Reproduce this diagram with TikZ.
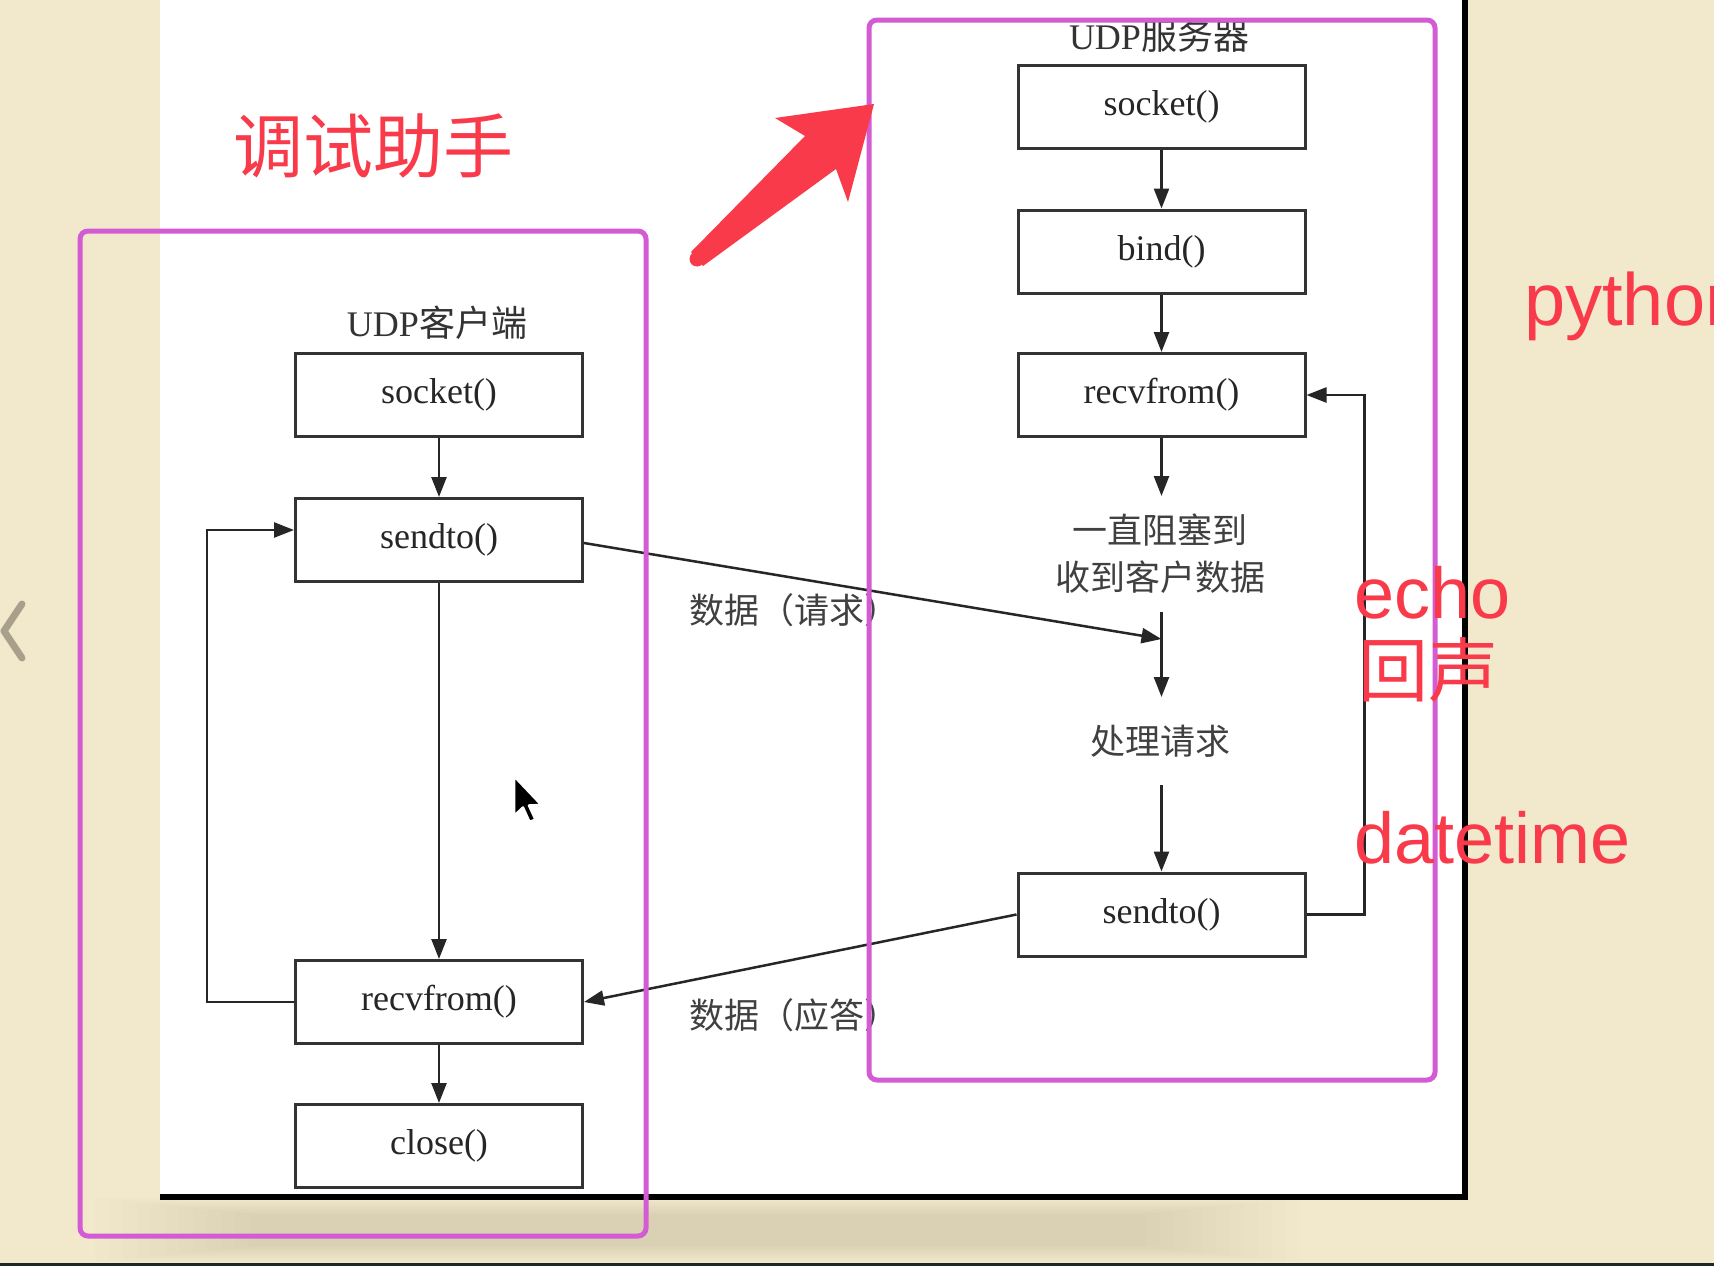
\documentclass[tikz,border=0pt]{standalone}
\usepackage{fontspec}
\setmainfont{Liberation Serif}
\newfontfamily\cjk{Noto Sans CJK SC}
\newfontfamily\annotfont{Liberation Sans}
\usetikzlibrary{arrows.meta}
\definecolor{deskcol}{HTML}{F2E9CD}
\definecolor{lassocol}{HTML}{D35BD3}
\definecolor{annred}{HTML}{F93A4A}
\definecolor{chevcol}{HTML}{A9A08B}
\definecolor{stripcol}{HTML}{1E2628}
\begin{document}
\begin{tikzpicture}[x=1pt,y=-1pt,
  fn/.style={draw=black!80, line width=3pt, fill=white, minimum width=287pt,
    minimum height=83pt, inner sep=0pt, text=black!85,
    font=\fontsize{36pt}{40pt}\selectfont},
  conn/.style={draw=black!85, line width=2.5pt, -{Triangle[length=20pt,width=15pt]}},
  heading/.style={inner sep=0pt, text=black!80, font=\fontsize{36pt}{40pt}\selectfont},
  note/.style={inner sep=0pt, text=black!75, font=\fontsize{35pt}{47pt}\selectfont\cjk},
  redtxt/.style={inner sep=0pt, text=annred, font=\fontsize{72pt}{72pt}\selectfont\annotfont},
  redcjk/.style={inner sep=0pt, text=annred, font=\fontsize{70pt}{70pt}\selectfont\cjk},
  lasso/.style={draw=lassocol, line width=5pt, rounded corners=8pt}
]
\useasboundingbox (0,0) rectangle (1714,1266);
\clip (0,0) rectangle (1714,1266);

% desk background, soft page shadow and bottom strip
\fill[deskcol] (0,0) rectangle (1714,1266);
\foreach \i in {0,...,11}
  \fill[black, opacity=0.007] (95+\i*14,1198+\i*1.5) rectangle (1300-\i*14,1262-\i*1.5);
\fill[stripcol] (0,1263) rectangle (1714,1266);

% back chevron
\draw[chevcol, line width=7pt, line cap=round, line join=round]
  (22,604) -- (4,631) -- (22,658);

% the page
\fill[white] (160,-10) rectangle (1462,1194);
\draw[black, line width=6.5pt] (1465,-10) -- (1465,1197) -- (160,1197);

% client column
\node[heading] (ctitle) at (437,323) {UDP{\cjk 客户端}};
\node[fn] (csock)  at (439,395)  {socket()};
\node[fn] (csend)  at (439,540)  {sendto()};
\node[fn] (crecv)  at (439,1002) {recvfrom()};
\node[fn] (cclose) at (439,1146) {close()};

\draw[conn] (csock) -- (csend);
\draw[conn] (csend) -- (crecv);
\draw[conn] (crecv) -- (cclose);
\draw[conn] (crecv.west) -- ++(-87,0) |- ([yshift=10pt]csend.west);

% server column
\node[heading] (stitle) at (1159,36) {UDP{\cjk 服务器}};
\node[fn] (ssock) at (1161.5,107)   {socket()};
\node[fn] (sbind) at (1161.5,251.5) {bind()};
\node[fn] (srecv) at (1161.5,395)   {recvfrom()};
\node[note, align=center] (swait) at (1160,554) {一直阻塞到\\收到客户数据};
\node[note] (sproc) at (1160,741) {处理请求};
\node[fn] (ssend) at (1161.5,914.5) {sendto()};

\coordinate (waitin)  at (1161.5,496);
\coordinate (waitout) at (1161.5,612);
\coordinate (procin)  at (1161.5,697);
\coordinate (procout) at (1161.5,785);
\coordinate (reqend)  at (1161.5,639);

\draw[conn] (ssock) -- (sbind);
\draw[conn] (sbind) -- (srecv);
\draw[conn] (srecv.south) -- (waitin);
\draw[conn] (waitout) -- (procin);
\draw[conn] (procout) -- (ssend.north);
\draw[conn] (ssend.east) -- ++(58,0) |- (srecv.east);

% datagrams between the two sides
\draw[conn] ([yshift=-3pt]csend.east) -- (reqend);
\draw[conn] (ssend.west) -- (crecv.east);
\node[note] (lreq) at (794,610)  {数据（请求）};
\node[note] (lrep) at (794,1015) {数据（应答）};

% highlight frames
\draw[lasso] (80,231) rectangle (646,1236);
\draw[lasso] (869,20) rectangle (1435,1080);

% red notes
\node[redcjk] (tool) at (373,146) {调试助手};
\fill[annred] (874,104) -- (775,118) -- (805,136) -- (691,252) -- (703,266)
  -- (836,169) -- (848,202) -- cycle;
\fill[annred] (697,259) circle (7.5);
\node[redtxt, anchor=base west, font=\fontsize{74pt}{74pt}\selectfont\annotfont]
  (lang) at (1524,325) {python};
\node[redtxt, anchor=base west] (echo) at (1354,618) {echo};
\node[redcjk, anchor=west] (echocn) at (1358,670) {回声};
\node[redtxt, anchor=base west] (dt) at (1354,863) {datetime};

% mouse pointer
\filldraw[fill=black, draw=white, line width=2.5pt, line join=round]
  (514,776) -- (514,816) -- (523,807.5) -- (529.5,822) -- (535.5,819.5)
  -- (529,805.5) -- (541.5,805) -- cycle;
\end{tikzpicture}
\end{document}
